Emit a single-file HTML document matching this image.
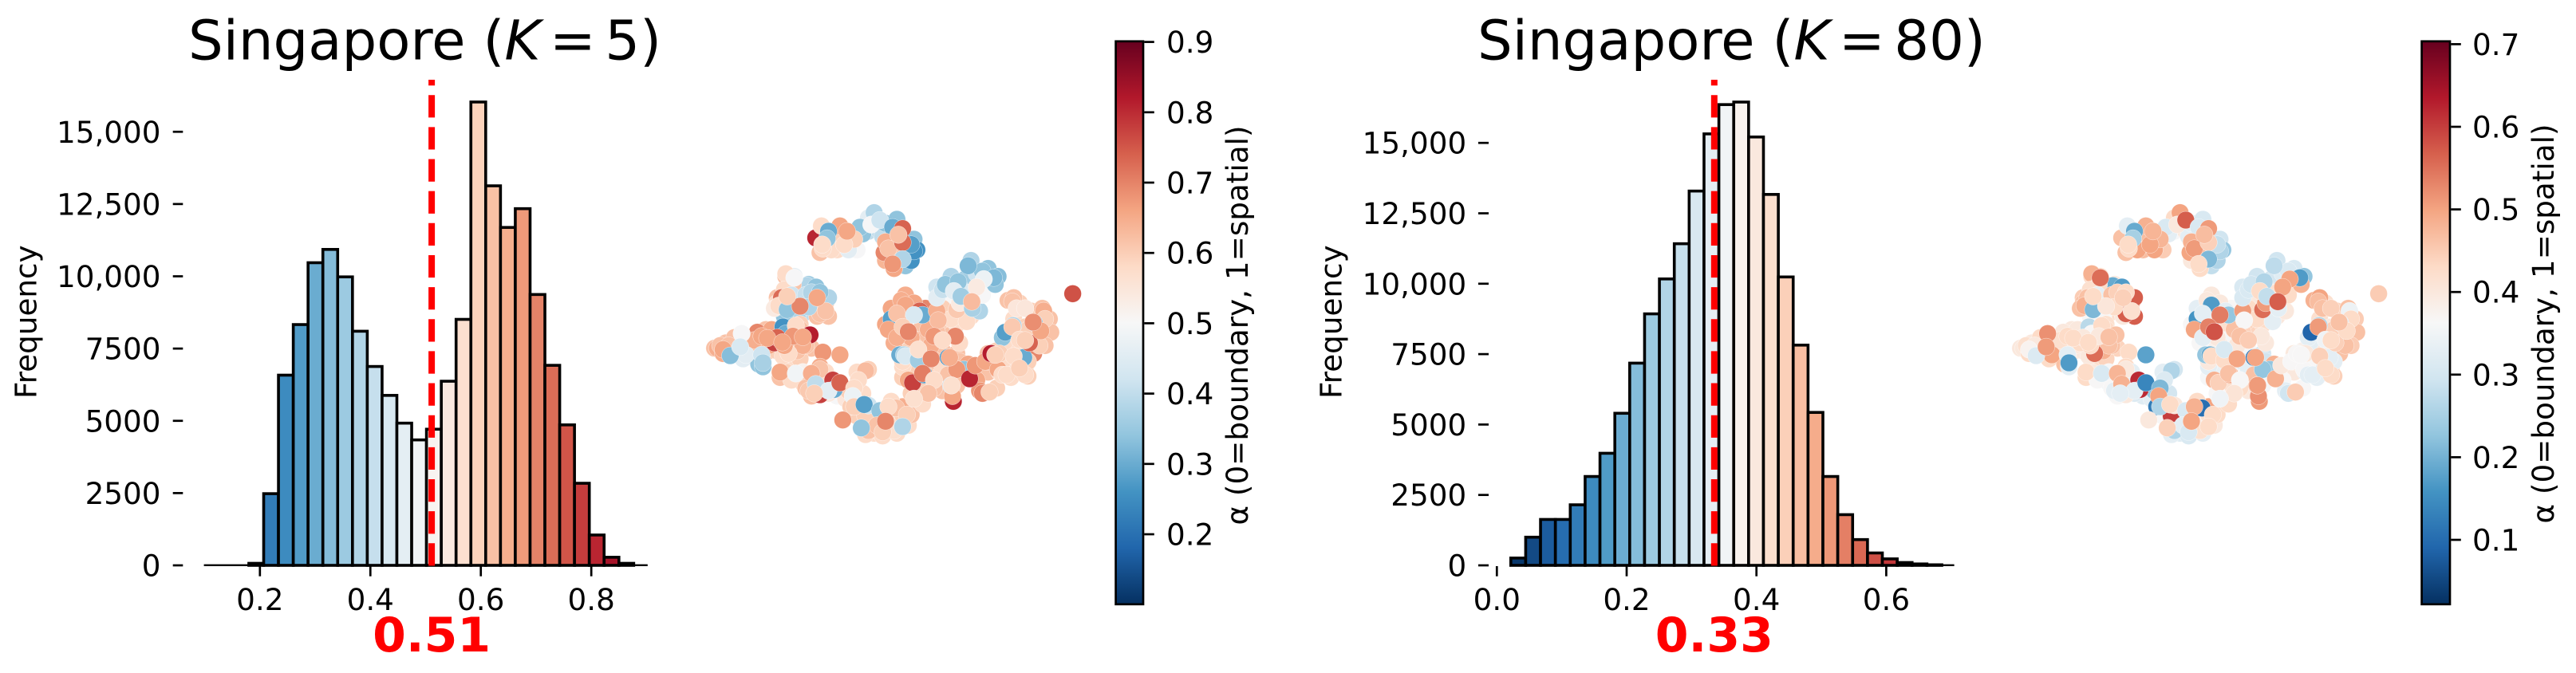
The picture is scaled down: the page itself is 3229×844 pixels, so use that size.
<!DOCTYPE html>
<html lang="en">
<head>
<meta charset="utf-8">
<title>Singapore alpha distributions</title>
<style>
html,body{margin:0;padding:0;background:#fff;width:3229px;height:844px;overflow:hidden}
svg{display:block}
text{font-family:"DejaVu Sans","Liberation Sans",sans-serif;fill:#000}
</style>
</head>
<body>
<svg id="fig" width="3229" height="844" viewBox="0 0 3229 844">
<defs>
<linearGradient id="rdbu" x1="0" y1="1" x2="0" y2="0">
<stop offset="0" stop-color="#053061"/><stop offset=".1" stop-color="#2166ac"/><stop offset=".2" stop-color="#4393c3"/><stop offset=".3" stop-color="#92c5de"/><stop offset=".4" stop-color="#d1e5f0"/><stop offset=".5" stop-color="#f7f7f7"/><stop offset=".6" stop-color="#fddbc7"/><stop offset=".7" stop-color="#f4a582"/><stop offset=".8" stop-color="#d6604d"/><stop offset=".9" stop-color="#b2182b"/><stop offset="1" stop-color="#67001f"/>
</linearGradient>
</defs>
<text x="236" y="74.5" font-size="68.9">Singapore (<tspan font-style="italic">K</tspan><tspan dx="11.5">=</tspan><tspan dx="11.5">5</tspan>)</text>
<text x="1852" y="74.5" font-size="68.9">Singapore (<tspan font-style="italic">K</tspan><tspan dx="11.5">=</tspan><tspan dx="11.5">80</tspan>)</text>
<text transform="translate(45.5 403.7) rotate(-90)" text-anchor="middle" font-size="37.3">Frequency</text>
<text transform="translate(1681.6 403.7) rotate(-90)" text-anchor="middle" font-size="37.3">Frequency</text>
<text transform="translate(1564 408) rotate(-90)" text-anchor="middle" font-size="37.3">α (0=boundary, 1=spatial)</text>
<text transform="translate(3201 406) rotate(-90)" text-anchor="middle" font-size="37.3">α (0=boundary, 1=spatial)</text>
<rect x="1398.6" y="51.8" width="34.4" height="706" fill="url(#rdbu)" stroke="#000" stroke-width="2.7"/>
<rect x="3035.6" y="51.8" width="35.4" height="706" fill="url(#rdbu)" stroke="#000" stroke-width="2.7"/>
<g id="layer"></g>
</svg>
<script>
// Histogram data (counts per bin)
const countsK5 = [70,2480,6580,8330,10470,10930,9980,8100,6880,5880,4920,4340,4710,6370,8510,16030,13130,11690,12340,9370,6920,4860,2840,1050,280,70];
const binStartK5 = 0.18;
const binWidthK5 = 0.0268;
const countsK80 = [260,1000,1630,1630,2150,3155,3980,5400,7180,8930,10170,11420,13290,15320,16360,16450,15210,13170,10240,7820,5430,3155,1800,915,440,230,100,50,20];
const binStartK80 = 0.0215;
const binWidthK80 = 0.0229;
const meanK5 = 0.511;
const meanK80 = 0.335;
const meanLabelK5 = "0.51";
const meanLabelK80 = "0.33";
const yTicks = [0,2500,5000,7500,10000,12500,15000];
const yTickLabels = ["0","2500","5000","7500","10,000","12,500","15,000"];
const xTicksK5 = [0.2,0.4,0.6,0.8];
const xTicksK80 = [0.0,0.2,0.4,0.6];
const cbarTicksK5 = [0.2,0.3,0.4,0.5,0.6,0.7,0.8,0.9];
const cbarTicksK80 = [0.1,0.2,0.3,0.4,0.5,0.6,0.7];
const normK5 = [0.1,0.905];
const normK80 = [0.023,0.704];

// Shared 2D embedding, one row per cluster (first seven rows are the back layer)
const embedX = [
-18,-16,-17,-10,-6,-2,2,-1,4.5,7,8,0,7,4,
-36,-32,-28,-24,-21,-29,-35,-31.5,-27,-38,-31,-30,
-41,-38,-32,-26,-53,-47,-46,-60,-42,-35,-30,-44,
-35,-29,-29,-24,-24,-17,-14,-8,-10,-5,-8,-4,2,4,6,0,8,-6,
2,7,13,17,20,25,28,23,18,12,6,15,10,8,20,25,10,15,18,22,10,13,20,25,30,33,36,36,39,6,
20,23,28,32,26,30,36,22,28,
47,51,45,49,53,43,49,45,42,46,56,
-23,-19,-13,-16,-8,-6,0,4,10,11,-.5,3,9,-24.5,-22.5,-22,-20,-20.5,-22.2,-9,-4,-5,-11,-14.5,-13.5,-2,2.5,6,10,9,0,1,6,6,2.5,
-38,-35,-32,-28,-20,-20,-24,-35.5,-39,-35,-27.6,-24.4,-32.5,-35.5,-36.5,-37.5,-33,-34.5,-28,-26,-23,-23,-21,-27,-24,-30,-32,
-59,-56,-57,-53,-48.5,-50,-45,-41,-41,-44.5,-30,-28,-36,-31,-40,-36,-35,-31.5,-26.5,-29,-34,-39,-38,-35.5,-32.5,-46,-43.5,-49,-43.5,-43,-43,-58,-55,-57,-54.5,-50.5,-51,-22,-16,
-37,-33,-28,-26,-23,-21,-20,-10,-13,-12,-10,-7,-1,4,9,6,2,-4,-7.1,3.7,-12.2,-37,-31.5,-23,-26,-27,-23,-24.5,-18.5,-18,-20,-16,-7,-9.5,-11,-11.5,-11,-6,-7.5,-2,1,7.5,-15,-6,-3,3,-1,-8.5,6,0,
2,7,14,10,0,3,9,15,16,25,30,20,23,26,6,8,6,13,9,17,20,26,22,29,32,36,41,40,33,39,5.5,2,7,4,12,13,10,1,4,6,8,18,18.5,28.5,25,17,24.5,20,5,6.5,7,11.5,11.5,22,27.5,25,22.5,16,9.5,13.5,13,17,15,10,23.8,23.5,23,23.2,29.5,31.5,35,39.5,34,36.5,
18,18,23,30,36,39.5,31,33,26,34,38.5,20,21,25.5,34,38,24,34.5,29,26.5,32,30.5,30.3,
43,45,55,57.5,58,56,52,41,50,47,49,50,44,41,50,37,48.5,42,44.5,55.5,56,46,49,44.8,44.5,52.2,54,50.5,54.5,51.8,47,40,45,49,42.5,47,65.7,
-29,-41.5,-36.2,-25,4.5,-34.5,49,38.5
];
const embedY = [
30,31,26,26,33,33,32,31,26,30,25,22,20,31,
6,6,6,5,6,2,10,12,13,8,1,-2,
-12,-12,-9,-11,-12,-10,-14,-11,-4,-16,-15,-10,
-20,-20,-24,-23,-28,-29,-30,-28,-32,-36,-40,-43,-40,-36,-36,-35,-40,-19,
-2,0,-2,0,-2,1,2,-6,-5,-8,-10,-12,-10,-12,-12,-13,-18,-19,-16,-17,-26,-26,-27,-25,-20,-19,-20,-16,-12,-22,
8,12,15,17,12,10,13,6,3,
6,3,0,-3,-5,-9,-10,-18,-17,-16,-4,
25,26,26,35,32,38,36,37.5,30,26,25,19,22,30.5,35,26.5,33,30.3,28,34.5,40,35.5,30,28,33,37.2,34.5,34,25.5,28,29,26.5,28.8,22.5,20.7,
6,16,16,11,8,1,1,1,4,17,12.5,12,13,11,8,5,9,3.5,9,10,10,2,3,4.5,8,4.8,15.5,
-11,-9,-13,-7,-10,-15,-5,-6,-10,-17,-4,-10,-14,-12,-4,-3,-5.5,-2.5,-6,-10,-13,-9,-7,-10,-6.5,-8,-6.5,-13.5,-13.5,-18,-16.5,-10,-10,-11.5,-13.8,-5.5,-10.5,-12.5,-13.5,
-22,-23,-26,-29,-18,-20,-28,-20,-27,-33,-36.5,-43.5,-44,-43,-36,-33,-31,-36,-36.5,-33.5,-33,-20,-20.5,-19,-20.5,-27,-28.5,-24.5,-23,-26.5,-27,-24,-19.5,-23,-26,-29,-33,-32.5,-32.2,-34.5,-33,-36,-38,-42,-40,-42,-42.5,-41,-40.5,-38.5,
4,9,4,6,-2,-9,-7,-4,-10,-2,1,4,0,-9,-18,-23,-16,-32,-28,-26,-19,-16,-21,-17,-23,-13,-16,-20,-27,-26,7,0,5.2,2,3,1.5,1.5,-4,-7,-3,-4.8,3,-.5,-1,3.5,-6.5,-6.5,-8,-13.5,-13.5,-14,-15.5,-11.5,-14.5,-19,-19,-14.5,-15,-24,-21,-20.5,-23,-28,-30,-31,-29,-25,-25,-22.5,-17.5,-16,-19,-28,-27.5,
12,8,16,22,19,16,4,3,6,9,13,11,13,14,18,15.5,10.5,15,20,8.5,12,4,6.5,
7,8,4,0,-5,-10,-13,-7,-4,-12,-19,-21.5,-22,-21,-16,-13,-14.5,-5,6.5,3,0,4,4,-2.5,-3,-1.5,-10,-9,-4.5,-1.2,-7.8,-13,-14,-21,-21,-18.5,9.5,
-6.8,-7.2,-8.8,-28,31.7,8.5,-8,-13.5
];
// Per-point alpha for K=5
const alphaK5 = [
.58,.60,.58,.50,.40,.40,.36,.40,.62,.60,.34,.64,.34,.40,
.60,.42,.40,.60,.60,.40,.60,.42,.36,.62,.38,.60,
.60,.60,.62,.62,.62,.62,.46,.62,.62,.58,.60,.62,
.60,.52,.60,.60,.60,.50,.55,.58,.58,.58,.60,.58,.58,.58,.60,.58,.58,.60,
.64,.64,.62,.62,.60,.60,.58,.62,.62,.62,.60,.62,.60,.60,.62,.62,.60,.60,.62,.62,.60,.60,.62,.62,.64,.64,.62,.62,.60,.60,
.42,.40,.36,.42,.42,.44,.38,.50,.56,
.60,.60,.58,.60,.60,.58,.62,.60,.60,.58,.62,
.62,.58,.46,.66,.34,.46,.34,.34,.34,.26,.70,.66,.26,.81,.58,.58,.30,.34,.58,.34,.38,.50,.60,.58,.66,.42,.30,.74,.26,.28,.65,.62,.73,.38,.68,
.58,.62,.46,.34,.38,.62,.62,.34,.54,.58,.38,.34,.62,.58,.73,.58,.42,.34,.41,.38,.34,.62,.62,.38,.66,.70,.50,
.65,.62,.65,.62,.62,.46,.70,.81,.66,.34,.62,.62,.58,.62,.66,.26,.30,.58,.82,.65,.58,.78,.74,.66,.68,.65,.66,.46,.42,.34,.37,.62,.62,.66,.33,.50,.44,.68,.66,
.62,.58,.62,.62,.65,.58,.54,.58,.60,.60,.60,.58,.58,.58,.62,.65,.58,.62,.60,.62,.60,.66,.49,.62,.65,.61,.78,.40,.78,.30,.46,.74,.63,.58,.58,.48,.60,.42,.28,.34,.58,.60,.68,.62,.62,.57,.60,.34,.38,.70,
.66,.65,.70,.66,.66,.65,.65,.65,.65,.58,.58,.60,.58,.58,.58,.66,.58,.58,.60,.62,.58,.62,.62,.66,.66,.62,.58,.58,.68,.60,.65,.28,.66,.62,.74,.30,.44,.66,.65,.60,.70,.65,.63,.58,.61,.68,.70,.58,.30,.38,.44,.36,.57,.26,.34,.68,.65,.70,.78,.26,.71,.58,.62,.57,.81,.66,.38,.57,.81,.68,.66,.66,.70,.60,
.42,.46,.38,.38,.34,.33,.38,.38,.54,.50,.34,.41,.34,.34,.34,.32,.46,.48,.32,.36,.54,.37,.63,
.62,.62,.62,.62,.62,.62,.70,.34,.60,.58,.58,.60,.58,.58,.60,.82,.30,.28,.62,.65,.60,.55,.55,.38,.61,.34,.60,.74,.66,.69,.58,.60,.58,.58,.58,.60,.76,
.66,.66,.66,.60,.62,.60,.60,.60
];
// Per-point alpha for K=80
const alphaK80 = [
.45,.47,.47,.45,.36,.40,.33,.33,.47,.45,.30,.40,.28,.33,
.43,.36,.44,.44,.47,.42,.42,.44,.40,.45,.36,.42,
.40,.40,.43,.44,.42,.43,.40,.40,.40,.42,.44,.42,
.40,.36,.35,.33,.33,.32,.33,.30,.30,.36,.35,.32,.33,.38,.42,.36,.40,.30,
.36,.40,.42,.44,.44,.43,.42,.44,.44,.36,.32,.34,.40,.38,.36,.30,.34,.36,.32,.34,.36,.42,.40,.36,.33,.40,.40,.42,.38,.36,
.30,.30,.30,.32,.40,.42,.44,.40,.44,
.42,.44,.42,.40,.42,.33,.36,.38,.33,.32,.44,
.465,.50,.50,.485,.33,.43,.33,.31,.295,.23,.50,.43,.26,.465,.33,.43,.19,.25,.43,.31,.50,.40,.48,.50,.48,.57,.31,.51,.26,.28,.485,.51,.445,.21,.43,
.465,.43,.43,.465,.57,.57,.40,.365,.465,.485,.19,.17,.43,.42,.465,.485,.33,.21,.465,.445,.43,.57,.42,.43,.445,.405,.555,
.40,.40,.43,.43,.43,.43,.40,.43,.40,.465,.43,.465,.40,.485,.40,.27,.365,.43,.465,.465,.555,.43,.40,.43,.40,.42,.43,.50,.33,.33,.17,.42,.40,.375,.315,.52,.51,.43,.18,
.43,.365,.365,.365,.43,.33,.315,.33,.23,.295,.365,.33,.31,.33,.43,.50,.43,.365,.60,.105,.125,.43,.31,.40,.48,.33,.40,.485,.62,.62,.33,.14,.26,.315,.21,.50,.26,.40,.43,.31,.485,.43,.40,.26,.33,.42,.31,.445,.43,.50,
.33,.40,.365,.40,.365,.365,.40,.465,.40,.43,.40,.43,.43,.40,.33,.485,.40,.43,.365,.43,.33,.295,.465,.485,.365,.40,.365,.33,.33,.365,.40,.16,.17,.33,.33,.23,.54,.50,.33,.535,.58,.51,.365,.33,.555,.465,.40,.45,.23,.19,.43,.43,.31,.11,.23,.23,.50,.50,.445,.50,.465,.365,.41,.35,.51,.52,.51,.51,.485,.40,.365,.365,.295,.45,
.31,.31,.295,.295,.31,.23,.445,.40,.51,.43,.485,.31,.295,.26,.31,.17,.43,.50,.275,.28,.50,.33,.57,
.485,.50,.465,.45,.465,.45,.465,.33,.445,.40,.445,.445,.33,.33,.33,.365,.33,.09,.47,.345,.43,.465,.445,.26,.51,.31,.465,.445,.43,.465,.35,.40,.445,.43,.33,.43,.45,
.465,.43,.43,.33,.47,.43,.43,.365
];

const layer = document.getElementById('layer');
const ns = layer.namespaceURI;
const cmapStops = [[5,48,97],[33,102,172],[67,147,195],[146,197,222],[209,229,240],[247,247,247],[253,219,199],[244,165,130],[214,96,77],[178,24,43],[103,0,31]];
function cmap(t){
  t = Math.max(0,Math.min(1,t))*10;
  const i = Math.min(9,Math.floor(t)), f = t-i, a = cmapStops[i], b = cmapStops[i+1];
  return 'rgb('+[0,1,2].map(k=>Math.round(a[k]+(b[k]-a[k])*f)).join(',')+')';
}
function mk(tag,attrs,txt){
  const e = document.createElementNS(ns,tag);
  for(const k in attrs){e.setAttribute(k,attrs[k]);}
  if(txt!==undefined){e.textContent=txt;}
  layer.appendChild(e);
  return e;
}

function drawHistogram(cfg){
  const sx = v => cfg.x0 + (v-cfg.xRef)*cfg.xScale;
  const sy = v => 709 - v*cfg.yScale;
  const norm = v => (v-cfg.norm[0])/(cfg.norm[1]-cfg.norm[0]);
  cfg.counts.forEach((c,i)=>{
    const l = cfg.binStart + i*cfg.binWidth;
    const r = l + cfg.binWidth;
    const bar = mk('rect',{x:sx(l),y:sy(c),width:sx(r)-sx(l),height:709-sy(c),fill:cmap(norm((l+r)/2)),stroke:'#000','stroke-width':3.6});
    
    
  });
  const spine = mk('line',{x1:cfg.spine[0],x2:cfg.spine[1],y1:708.8,y2:708.8,stroke:'#000','stroke-width':2.4});
  
  
  cfg.xTicks.forEach(v=>{
    const tick = mk('line',{x1:sx(v),x2:sx(v),y1:710,y2:722.7,stroke:'#000','stroke-width':2.7});
    
    
    const label = mk('text',{x:sx(v),y:765,'text-anchor':'middle','font-size':37.3},v.toFixed(1));
    
    
  });
  yTicks.forEach((v,i)=>{
    const tick = mk('line',{x1:cfg.yTickX[0],x2:cfg.yTickX[1],y1:sy(v),y2:sy(v),stroke:'#000','stroke-width':2.7});
    
    
    const label = mk('text',{x:cfg.yLabelX,y:sy(v)+13.5,'text-anchor':'end','font-size':37.3},yTickLabels[i]);
    
    
  });
  const meanLine = mk('line',{x1:sx(cfg.mean),x2:sx(cfg.mean),y1:709.5,y2:100,stroke:'#f00','stroke-width':8,'stroke-dasharray':'28.2 11.95'});
  
  
  const meanText = mk('text',{x:sx(cfg.mean),y:816.8,'text-anchor':'middle','font-size':60,'font-weight':'bold',style:'fill:#f00'},cfg.meanLabel);
  
  
}

function drawScatter(originX, values, norm){
  const sx = e => originX + e*3.5714;
  const sy = e => 400 - e*3.3333;
  values.forEach((v,i)=>{
    const dot = mk('circle',{cx:sx(embedX[i]),cy:sy(embedY[i]),r:10.9,fill:cmap((v-norm[0])/(norm[1]-norm[0])),stroke:'#fff','stroke-width':0.35});
    
    
  });
}

function drawColorbarTicks(ticks, y, x0, labelX){
  ticks.forEach(v=>{
    const tick = mk('line',{x1:x0,x2:x0+12.5,y1:y(v),y2:y(v),stroke:'#000','stroke-width':2.7});
    
    
    const label = mk('text',{x:labelX,y:y(v)+13.5,'font-size':37.3},v.toFixed(1));
    
    
  });
}

drawHistogram({counts:countsK5,binStart:binStartK5,binWidth:binWidthK5,norm:normK5,x0:325.8,xRef:0.2,xScale:692.3,yScale:0.03625,spine:[255.6,811.8],xTicks:xTicksK5,yTickX:[216.7,229.3],yLabelX:201.5,mean:meanK5,meanLabel:meanLabelK5});
drawHistogram({counts:countsK80,binStart:binStartK80,binWidth:binWidthK80,norm:normK80,x0:1876.3,xRef:0,xScale:813.5,yScale:0.03532,spine:[1892,2449.6],xTicks:xTicksK80,yTickX:[1853,1866],yLabelX:1838.2,mean:meanK80,meanLabel:meanLabelK80});
drawScatter(1110,alphaK5,normK5);
drawScatter(2747,alphaK80,normK80);
drawColorbarTicks(cbarTicksK5,v=>670-(v-0.2)*882,1434.3,1462);
drawColorbarTicks(cbarTicksK80,v=>677-(v-0.1)*1036,3072.3,3099);
</script>
</body>
</html>
